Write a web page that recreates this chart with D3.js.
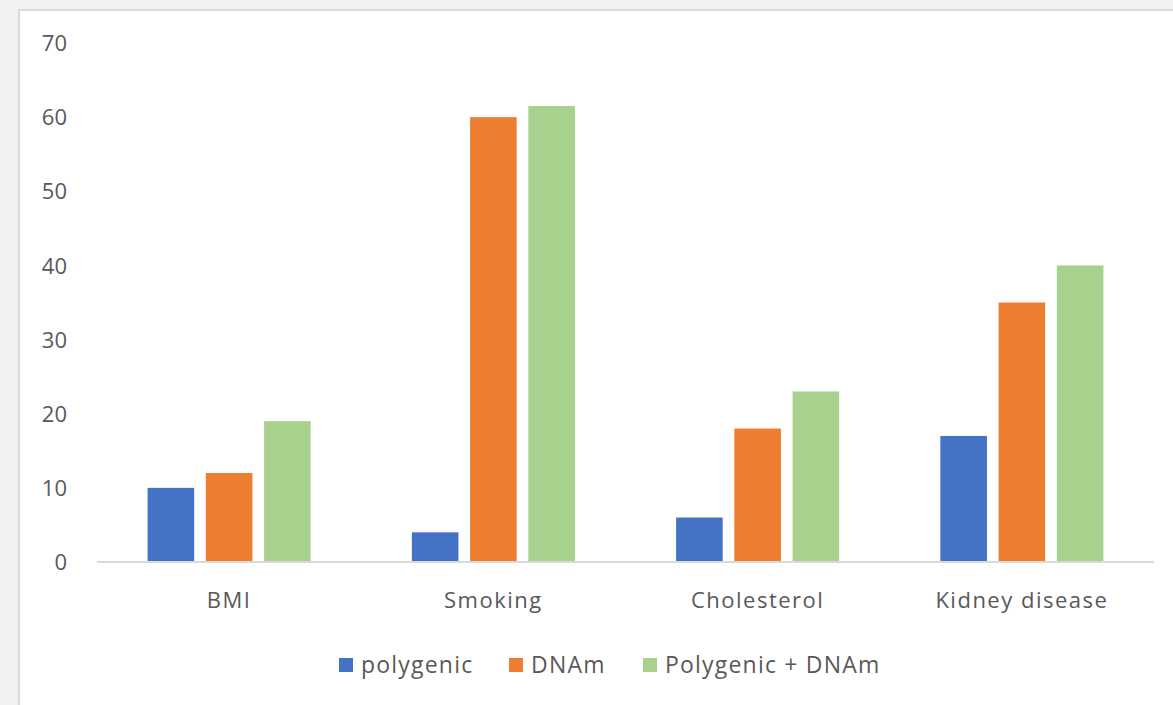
<!DOCTYPE html>
<html>
<head>
<meta charset="utf-8">
<script src="https://cdn.jsdelivr.net/npm/d3@7"></script>
<style>
  html, body { margin: 0; padding: 0; background: #f1f1f1; }
  svg { display: block; }
  text { font-family: "Open Sans", "Liberation Sans", sans-serif; fill: #595959; }
</style>
</head>
<body>
<svg id="chart" width="1173" height="705"></svg>
<script>
const categories = ["BMI", "Smoking", "Cholesterol", "Kidney disease"];
const seriesNames = ["polygenic", "DNAm", "Polygenic + DNAm"];
const polygenic = [10, 4, 6, 17];
const dnam = [12, 60, 18, 35];
const combined = [19, 61.5, 23, 40];
const yTicks = [0, 10, 20, 30, 40, 50, 60, 70];
const colors = ["#4472c4", "#ed7d31", "#a9d18e"];

const seriesValues = [polygenic, dnam, combined];
const rows = categories.map((c, i) => ({
  category: c,
  values: seriesNames.map((s, j) => ({ series: s, value: seriesValues[j][i] }))
}));

const svg = d3.select("#chart");

// chart panel
svg.append("rect")
  .attr("x", 19).attr("y", 10)
  .attr("width", 1173).attr("height", 720)
  .attr("fill", "#ffffff")
  .attr("stroke", "#d9d9d9")
  .attr("stroke-width", 2);

const plotLeft = 97, plotRight = 1154, plotTop = 43, plotBottom = 562;

const x0 = d3.scaleBand()
  .domain(categories)
  .range([plotLeft, plotRight])
  .paddingInner(0.383)
  .paddingOuter(0.1915);

const x1 = d3.scaleBand()
  .domain(seriesNames)
  .range([0, x0.bandwidth()])
  .paddingInner(0.2);

const y = d3.scaleLinear()
  .domain([0, 70])
  .range([plotBottom, plotTop]);

const color = d3.scaleOrdinal().domain(seriesNames).range(colors);

// y axis labels
const yAxis = d3.axisLeft(y).tickValues(yTicks).tickSize(0).tickPadding(0);
const yg = svg.append("g")
  .attr("transform", `translate(67,0)`)
  .call(yAxis);
yg.select(".domain").remove();
yg.selectAll("text")
  .attr("font-size", 22)
  .attr("font-family", "Open Sans, Liberation Sans, sans-serif")
  .attr("fill", "#595959")
  .attr("dy", "0.35em");

// bars
svg.append("g")
  .selectAll("g")
  .data(rows)
  .join("g")
  .attr("transform", d => `translate(${x0(d.category)},0)`)
  .selectAll("rect")
  .data(d => d.values)
  .join("rect")
  .attr("x", d => x1(d.series))
  .attr("y", d => y(d.value))
  .attr("width", x1.bandwidth())
  .attr("height", d => y(0) - y(d.value))
  .attr("fill", d => color(d.series));

// category axis
const xAxis = d3.axisBottom(x0).tickSize(0).tickPadding(0);
const xg = svg.append("g")
  .attr("transform", `translate(0,${plotBottom})`)
  .call(xAxis);
xg.select(".domain")
  .attr("stroke", "#d9d9d9")
  .attr("stroke-width", 2)
  .attr("d", `M${plotLeft},0H${plotRight}`);
xg.selectAll("text")
  .attr("y", 46)
  .attr("dy", "0")
  .attr("font-size", 22)
  .attr("letter-spacing", 1.5)
  .attr("font-family", "Open Sans, Liberation Sans, sans-serif")
  .attr("fill", "#595959");

// legend
const legendItems = [
  { name: seriesNames[0], x: 339 },
  { name: seriesNames[1], x: 509 },
  { name: seriesNames[2], x: 643 }
];
const lg = svg.append("g").selectAll("g")
  .data(legendItems)
  .join("g")
  .attr("transform", d => `translate(${d.x},665)`);
lg.append("rect")
  .attr("x", 0).attr("y", -7)
  .attr("width", 14).attr("height", 14)
  .attr("fill", d => color(d.name));
lg.append("text")
  .attr("x", 22)
  .attr("dy", "0.35em")
  .attr("font-size", 23)
  .attr("letter-spacing", 1.2)
  .text(d => d.name);
</script>
</body>
</html>
